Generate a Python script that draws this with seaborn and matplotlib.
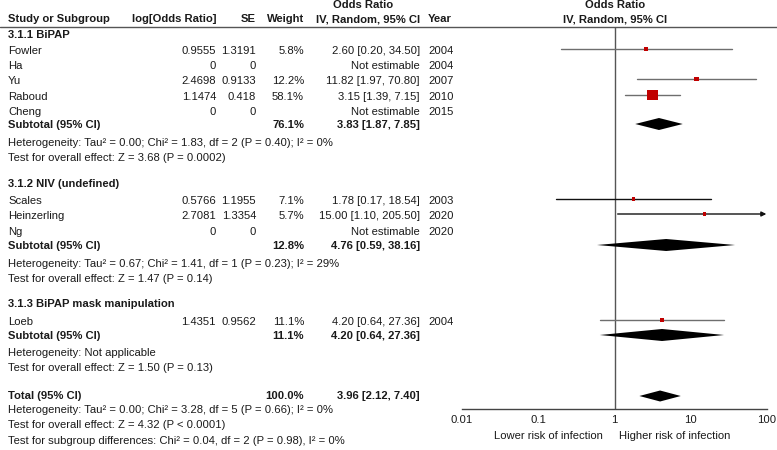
import numpy as np
import matplotlib
matplotlib.use("Agg")
import matplotlib.pyplot as plt
import seaborn as sns

sns.set_theme(style="white")
plt.rcParams["font.family"] = ["Liberation Sans", "DejaVu Sans"]

# study rows
studies = ["Fowler", "Ha", "Yu", "Raboud", "Cheng", "Scales", "Heinzerling", "Ng", "Loeb"]
group_of = [0, 0, 0, 0, 0, 1, 1, 1, 2]
log_or = ["0.9555", "0", "2.4698", "1.1474", "0", "0.5766", "2.7081", "0", "1.4351"]
se = ["1.3191", "0", "0.9133", "0.418", "0", "1.1955", "1.3354", "0", "0.9562"]
weight = [5.8, np.nan, 12.2, 58.1, np.nan, 7.1, 5.7, np.nan, 11.1]
odds = [2.60, np.nan, 11.82, 3.15, np.nan, 1.78, 15.00, np.nan, 4.20]
ci_lo = [0.20, np.nan, 1.97, 1.39, np.nan, 0.17, 1.10, np.nan, 0.64]
ci_hi = [34.50, np.nan, 70.80, 7.15, np.nan, 18.54, 205.50, np.nan, 27.36]
years = [2004, 2004, 2007, 2010, 2015, 2003, 2020, 2020, 2004]

# subgroups
group_titles = ["3.1.1 BiPAP", "3.1.2 NIV (undefined)", "3.1.3 BiPAP mask manipulation"]
sub_weight = [76.1, 12.8, 11.1]
sub_or = [3.83, 4.76, 4.20]
sub_lo = [1.87, 0.59, 0.64]
sub_hi = [7.85, 38.16, 27.36]
sub_het = ["Heterogeneity: Tau² = 0.00; Chi² = 1.83, df = 2 (P = 0.40); I² = 0%",
           "Heterogeneity: Tau² = 0.67; Chi² = 1.41, df = 1 (P = 0.23); I² = 29%",
           "Heterogeneity: Not applicable"]
sub_test = ["Test for overall effect: Z = 3.68 (P = 0.0002)",
            "Test for overall effect: Z = 1.47 (P = 0.14)",
            "Test for overall effect: Z = 1.50 (P = 0.13)"]

# overall
total_weight = 100.0
total_or, total_lo, total_hi = 3.96, 2.12, 7.40
total_notes = ["Heterogeneity: Tau² = 0.00; Chi² = 3.28, df = 5 (P = 0.66); I² = 0%",
               "Test for overall effect: Z = 4.32 (P < 0.0001)",
               "Test for subgroup differences: Chi² = 0.04, df = 2 (P = 0.98), I² = 0%"]

ticks = [0.01, 0.1, 1, 10, 100]
tick_labels = ["0.01", "0.1", "1", "10", "100"]

# layout (row positions in pixels from top)
title_y = [34, 183, 303]
study_y = [50, 65, 80, 96, 111, 200, 215, 231, 321]
sub_y = [124, 245, 335]
het_y = [142, 263, 352]
test_y = [157, 278, 367]
total_y = 396
notes_y = [409, 424, 440]

W, H = 777, 450
fig = plt.figure(figsize=(W / 100, H / 100), dpi=100)
tx = fig.add_axes([0, 0, 1, 1])
tx.set_xlim(0, W)
tx.set_ylim(H, 0)
tx.axis("off")

fs = 8.1
x_study, x_lor, x_se, x_w, x_ci, x_year = 8, 216, 256, 304, 420, 428


def t(x, y, s, ha="left", bold=False):
    # small nudge so the cap height sits on the row like the original
    tx.text(x, y + 1.2, s, ha=ha, va="center", fontsize=fs,
            fontweight="bold" if bold else "normal", color="#1a1a1a")


# headers
t(363, 4, "Odds Ratio", "center", True)
t(615, 4, "Odds Ratio", "center", True)
t(x_study, 18, "Study or Subgroup", bold=True)
t(x_lor, 18, "log[Odds Ratio]", "right", True)
t(x_se, 18, "SE", "right", True)
t(x_w, 18, "Weight", "right", True)
t(x_ci, 18, "IV, Random, 95% CI", "right", True)
t(x_year, 18, "Year", bold=True)
t(615, 18, "IV, Random, 95% CI", "center", True)
tx.plot([0, W], [27, 27], color="#555555", lw=1.0)

for i, name in enumerate(studies):
    y = study_y[i]
    t(x_study, y, name)
    t(x_lor, y, log_or[i], "right")
    t(x_se, y, se[i], "right")
    if np.isnan(weight[i]):
        t(x_ci, y, "Not estimable", "right")
    else:
        t(x_w, y, f"{weight[i]:.1f}%", "right")
        t(x_ci, y, f"{odds[i]:.2f} [{ci_lo[i]:.2f}, {ci_hi[i]:.2f}]", "right")
    t(x_year, y, str(years[i]))

for g in range(3):
    t(x_study, title_y[g], group_titles[g], bold=True)
    t(x_study, sub_y[g], "Subtotal (95% CI)", bold=True)
    t(x_w, sub_y[g], f"{sub_weight[g]:.1f}%", "right", True)
    t(x_ci, sub_y[g], f"{sub_or[g]:.2f} [{sub_lo[g]:.2f}, {sub_hi[g]:.2f}]", "right", True)
    t(x_study, het_y[g], sub_het[g])
    t(x_study, test_y[g], sub_test[g])

t(x_study, total_y - 1, "Total (95% CI)", bold=True)
t(x_w, total_y - 1, f"{total_weight:.1f}%", "right", True)
t(x_ci, total_y - 1, f"{total_or:.2f} [{total_lo:.2f}, {total_hi:.2f}]", "right", True)
for s, y in zip(total_notes, notes_y):
    t(x_study, y, s)

# forest panel
ax_top, ax_bot = 27, 409
ax = fig.add_axes([462 / W, (H - ax_bot) / H, 305 / W, (ax_bot - ax_top) / H])
ax.set_xscale("log")
ax.set_xlim(0.01, 100)
ax.set_ylim(ax_bot, ax_top)
ax.patch.set_alpha(0)
for side in ["top", "left", "right"]:
    ax.spines[side].set_visible(False)
ax.spines["bottom"].set_color("#444444")
ax.spines["bottom"].set_linewidth(1.0)
ax.set_yticks([])
ax.set_xticks(ticks)
ax.set_xticklabels(tick_labels, fontsize=fs, color="#1a1a1a")
ax.minorticks_off()
ax.tick_params(axis="x", direction="inout", length=5, width=1.0, color="#444444", pad=2)
ax.axvline(1, color="#555555", lw=1.0)

line_colors = ["#6e6e6e", "#111111", "#6e6e6e"]
xmax = ax.get_xlim()[1]
for i in range(len(studies)):
    if np.isnan(odds[i]):
        continue
    y = study_y[i] - 1
    c = line_colors[group_of[i]]
    if ci_hi[i] > xmax:
        ax.annotate("", xy=(xmax * 0.98, y), xytext=(ci_lo[i], y),
                    arrowprops=dict(arrowstyle="-|>", color="#111111", lw=1.0,
                                    mutation_scale=7, shrinkA=0, shrinkB=0))
    else:
        ax.plot([ci_lo[i], ci_hi[i]], [y, y], color=c, lw=1.0)

w = np.array(weight)
keep = ~np.isnan(w)
ax.scatter(np.array(odds)[keep], np.array(study_y)[keep] - 1, s=w[keep] * 1.0,
           marker="s", color="#c00000", linewidths=0, zorder=3)


def diamond(mid, lo, hi, y, h=6):
    ax.fill([lo, mid, hi, mid], [y, y - h, y, y + h], color="black", lw=0, zorder=3)


for g in range(3):
    diamond(sub_or[g], sub_lo[g], sub_hi[g], sub_y[g])
diamond(total_or, total_lo, total_hi, total_y, h=5.5)

t(603, 435, "Lower risk of infection", "right")
t(619, 435, "Higher risk of infection")

fig.savefig("out.png", dpi=100)
